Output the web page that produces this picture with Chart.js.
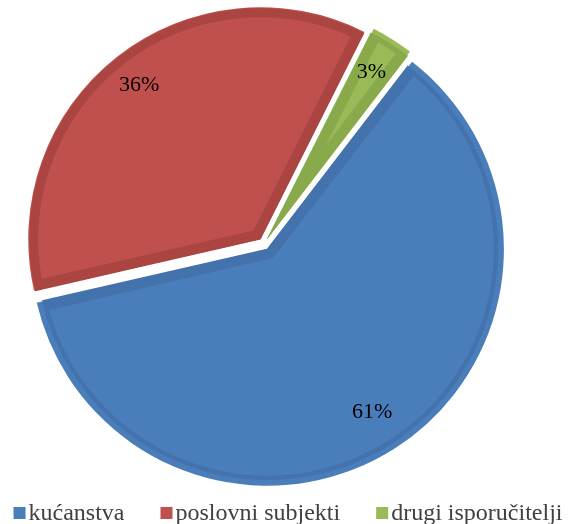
<!DOCTYPE html>
<html>
<head>
<meta charset="utf-8">
<script src="https://cdn.jsdelivr.net/npm/chart.js@4"></script>
<style>
  html, body { margin: 0; padding: 0; background: #fff; }
  #wrap { width: 568px; height: 524px; }
</style>
</head>
<body>
<div id="wrap"><canvas id="pieChart"></canvas></div>
<script>
// podaci
const categories = ['kućanstva', 'poslovni subjekti', 'drugi isporučitelji'];
const shares = [61, 36, 3];
const pctLabels = ['61%', '36%', '3%'];

const fillColors = ['#4a7ebb', '#bf504d', '#99ba56'];
const edgeColors = ['#4372ad', '#ab4542', '#89aa4b'];
const labelRadius = [0.84, 0.85, 0.85];
const sliceOffset = 24;
const serif = '"Liberation Serif", "Times New Roman", serif';

// pomakne pitu ulijevo
const shiftPie = {
    id: 'shiftPie',
    afterLayout(chart) {
        chart.chartArea.right -= 40;
        chart.chartArea.width -= 40;
    }
};

// postoci na kriškama
const sliceLabels = {
    id: 'sliceLabels',
    afterDatasetsDraw(chart) {
        const ctx = chart.ctx;
        const meta = chart.getDatasetMeta(0);
        ctx.save();
        ctx.font = '22px ' + serif;
        ctx.fillStyle = '#000';
        ctx.textAlign = 'center';
        ctx.textBaseline = 'middle';
        meta.data.forEach((arc, i) => {
            const p = arc.getProps(['x', 'y', 'startAngle', 'endAngle', 'outerRadius']);
            const mid = (p.startAngle + p.endAngle) / 2;
            const r = p.outerRadius * labelRadius[i] + sliceOffset / 4;
            ctx.fillText(pctLabels[i], p.x + Math.cos(mid) * r, p.y + Math.sin(mid) * r);
        });
        ctx.restore();
    }
};

// legenda ispod (kvadratić uz tekst, kao u Excelu)
const bottomLegend = {
    id: 'bottomLegend',
    afterDraw(chart) {
        const ctx = chart.ctx;
        const gap = 36;
        ctx.save();
        ctx.font = '24px ' + serif;
        ctx.textBaseline = 'alphabetic';
        ctx.textAlign = 'left';
        const widths = categories.map(c => ctx.measureText(c).width);
        const total = widths.reduce((a, w) => a + 15 + w, 0) + gap * (categories.length - 1);
        let x = 288 - total / 2;
        categories.forEach((c, i) => {
            ctx.fillStyle = fillColors[i];
            ctx.fillRect(x, 507, 12, 12);
            ctx.fillStyle = '#404040';
            ctx.fillText(c, x + 15, 520);
            x += 15 + widths[i] + gap;
        });
        ctx.restore();
    }
};

const ctx = document.getElementById('pieChart').getContext('2d');
const pieChart = new Chart(ctx, {
    type: 'pie',
    data: {
        labels: categories,
        datasets: [{
            data: shares,
            backgroundColor: fillColors,
            borderColor: edgeColors,
            borderWidth: 10,
            borderAlign: 'inner',
            offset: sliceOffset,
            radius: 231,
            clip: false
        }]
    },
    options: {
        responsive: true,
        maintainAspectRatio: false,
        animation: false,
        rotation: 37.5,
        layout: {
            padding: { top: 10, left: 0, right: 0, bottom: 46 }
        },
        plugins: {
            tooltip: { enabled: false },
            legend: { display: false }
        }
    },
    plugins: [shiftPie, sliceLabels, bottomLegend]
});
</script>
</body>
</html>
